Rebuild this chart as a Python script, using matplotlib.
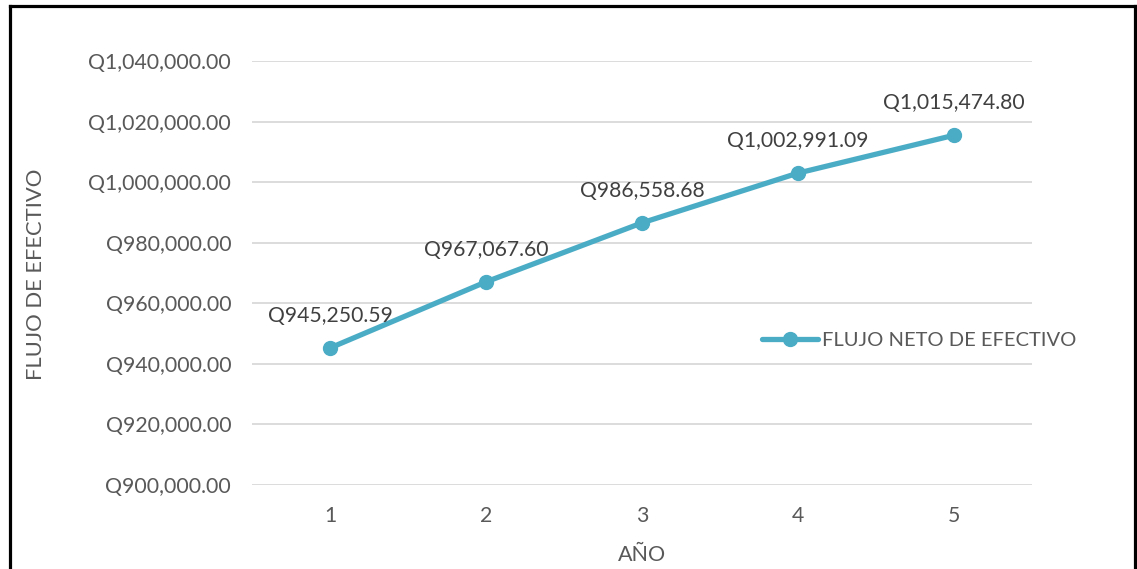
import matplotlib
matplotlib.use("Agg")
import matplotlib.pyplot as plt
from matplotlib.lines import Line2D
from matplotlib.ticker import FuncFormatter

years = [1, 2, 3, 4, 5]
flujo_neto = [945250.59, 967067.60, 986558.68, 1002991.09, 1015474.80]
series_name = "FLUJO NETO DE EFECTIVO"
y_ticks = [900000, 920000, 940000, 960000, 980000, 1000000, 1020000, 1040000]

LINE_COLOR = "#4BACC6"
TEXT_COLOR = "#595959"
GRID_COLOR = "#D9D9D9"

plt.rcParams["font.family"] = ["Lato", "DejaVu Sans"]

W, H = 1137, 569
fig = plt.figure(figsize=(W / 100, H / 100), dpi=100)
ax = fig.add_axes([252 / W, 1 - 485 / H, (1032 - 252) / W, (485 - 61) / H])

ax.plot(years, flujo_neto, color=LINE_COLOR, lw=3.8, marker="o", ms=10,
        solid_capstyle="round", label=series_name, zorder=3)

for x, v in zip(years, flujo_neto):
    ax.annotate(f"Q{v:,.2f}", (x, v), xytext=(0, 16), textcoords="offset points",
                ha="center", va="bottom", fontsize=15.2, color="#404040")

ax.set_xlim(0.5, 5.5)
ax.set_ylim(900000, 1040000)
ax.set_xticks(years)
ax.set_yticks(y_ticks)
ax.yaxis.set_major_formatter(FuncFormatter(lambda v, _: f"Q{v:,.2f}"))
ax.tick_params(axis="both", length=0, labelsize=15.3, colors=TEXT_COLOR)
ax.tick_params(axis="y", pad=15)
ax.tick_params(axis="x", pad=15)
ax.grid(axis="y", color=GRID_COLOR, lw=1.3)
ax.set_axisbelow(True)
for s in ax.spines.values():
    s.set_visible(False)

ax.set_xlabel("AÑO", fontsize=15.5, color=TEXT_COLOR, labelpad=14)
fig.text(36 / W, 1 - 274 / H, "FLUJO DE EFECTIVO", rotation=90, fontsize=15.8,
         color=TEXT_COLOR, ha="center", va="center")

leg = ax.legend(loc="center left", bbox_to_anchor=((762 - 252) / 780, (485 - 340) / 424),
                frameon=False, fontsize=14.5, handlelength=2.8, handletextpad=0.2,
                borderaxespad=0, borderpad=0)
for t in leg.get_texts():
    t.set_color(TEXT_COLOR)

# outer frame (left, top, right edges)
for xs, ys in [([9.5, 9.5], [H + 5, 6]), ([9.5, 1135], [6, 6]), ([1135, 1135], [6, H + 5])]:
    fig.add_artist(Line2D([x / W for x in xs], [1 - y / H for y in ys],
                          color="black", lw=2.3, transform=fig.transFigure))

fig.savefig("out.png", dpi=100)
